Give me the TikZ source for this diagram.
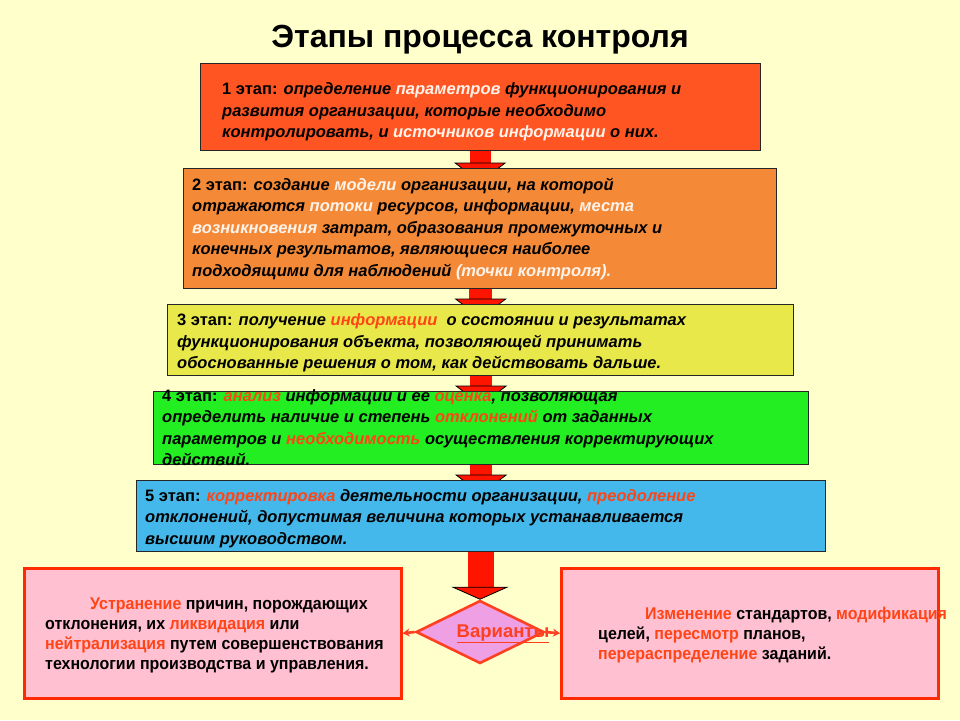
\documentclass[tikz,border=0pt]{standalone}
\usepackage{fontspec}
\setmainfont{Liberation Sans}
\newfontfamily\narrowbold[FakeStretch=0.94]{Liberation Sans Bold}
\usetikzlibrary{calc,shapes.geometric,arrows.meta}
\pgfdeclarelayer{back}
\pgfdeclarelayer{bg}
\pgfsetlayers{back,bg,main}
\definecolor{bgc}{HTML}{FFFFCC}
\definecolor{cA}{HTML}{FF5522}
\definecolor{cB}{HTML}{F48A38}
\definecolor{cC}{HTML}{E8E84A}
\definecolor{cD}{HTML}{22EE22}
\definecolor{cE}{HTML}{44B8EA}
\definecolor{pinkc}{HTML}{FFC0D2}
\definecolor{redb}{HTML}{FF2A00}
\definecolor{diaf}{HTML}{EFA0E4}
\definecolor{diab}{HTML}{FF4020}
\definecolor{whl}{HTML}{FFF4EC}
\definecolor{rhl}{HTML}{FF4416}
\definecolor{arrred}{HTML}{FF1400}
\newcommand\whi[1]{\textcolor{whl}{#1}}
\newcommand\redh[1]{\textcolor{rhl}{#1}}
\begin{document}
\begin{tikzpicture}[x=1pt,y=-1pt,
  stage/.style={draw=black!85, line width=1.3pt, inner sep=0pt, anchor=north west},
  stxt/.style={anchor=west, align=left, inner sep=0pt,
    font={\fontsize{16.5}{21.5}\selectfont\bfseries\itshape}},
  pbox/.style={draw=redb, fill=pinkc, line width=2.6pt, inner sep=0pt, anchor=north west,
    minimum width=377pt, minimum height=130pt},
  ptxt/.style={anchor=west, align=left, inner sep=0pt,
    font={\fontsize{17}{19.8}\narrowbold}},
  sidearrow/.style={draw=diab, line width=2.6pt, -{Stealth[length=7pt,width=8pt]}}
]
\begin{pgfonlayer}{back}
\fill[bgc] (0,0) rectangle (960,720);
\end{pgfonlayer}
\useasboundingbox (0,0) rectangle (960,720);

\node[font={\fontsize{32}{36}\selectfont\bfseries}, inner sep=0pt] (title) at (480,40) {Этапы процесса контроля};

\node[stage, fill=cA, minimum width=560pt, minimum height=87pt] (b1) at (200,63) {};
\node[stage, fill=cB, minimum width=593pt, minimum height=120pt] (b2) at (183,168) {};
\node[stage, fill=cC, minimum width=626pt, minimum height=71pt] (b3) at (167,304) {};
\node[stage, fill=cD, minimum width=655pt, minimum height=73pt] (b4) at (153,391) {};
\node[stage, fill=cE, minimum width=689pt, minimum height=71pt] (b5) at (136,480) {};

\node[stxt] (t1) at ([xshift=22pt,yshift=-5pt]b1.west) {{\upshape 1 этап:} определение \whi{параметров} функционирования и\\
развития организации, которые необходимо\\
контролировать, и \whi{источников информации} о них.};
\node[stxt] (t2) at ([xshift=9pt]b2.west) {{\upshape 2 этап:} создание \whi{модели} организации, на которой\\
отражаются \whi{потоки} ресурсов, информации, \whi{места}\\
\whi{возникновения} затрат, образования промежуточных и\\
конечных результатов, являющиеся наиболее\\
подходящими для наблюдений \whi{(точки контроля).}};
\node[stxt] (t3) at ([xshift=10pt,yshift=-3pt]b3.west) {{\upshape 3 этап:} получение \redh{информации}\ \ о состоянии и результатах\\
функционирования объекта, позволяющей принимать\\
обоснованные решения о том, как действовать дальше.};
\node[stxt] (t4) at ([xshift=9pt,yshift=0.5pt]b4.west) {{\upshape 4 этап:} \redh{анализ} информации и ее \redh{оценка}, позволяющая\\
определить наличие и степень \redh{отклонений} от заданных\\
параметров и \redh{необходимость} осуществления корректирующих\\
действий.};
\node[stxt] (t5) at ([xshift=9pt,yshift=-2.5pt]b5.west) {{\upshape 5 этап:} \redh{корректировка} деятельности организации, \redh{преодоление}\\
отклонений, допустимая величина которых устанавливается\\
высшим руководством.};

\node[pbox] (lb) at (23,567) {};
\node[pbox] (rb) at (560,567) {};
\node[draw=diab, fill=diaf, line width=2.6pt, shape=diamond, aspect=2,
  minimum width=128pt, minimum height=63pt, inner sep=0pt] (dia) at (480,632) {};

\node[ptxt] (lt) at ([xshift=22pt,yshift=-2pt]lb.west) {\hspace*{45pt}\redh{Устранение} причин, порождающих\\
отклонения, их \redh{ликвидация} или\\
\redh{нейтрализация} путем совершенствования\\
технологии производства и управления.};
\node[ptxt] (rt) at ([xshift=38pt,yshift=-2pt]rb.west) {\hspace*{47pt}\redh{Изменение} стандартов, \redh{модификация}\\
целей, \redh{пересмотр} планов,\\
\redh{перераспределение} заданий.};

\draw[sidearrow] (dia.west) -- (lb.east);
\draw[sidearrow] (dia.east) -- (rb.west);

\node[inner sep=0pt, text=diab, font={\fontsize{18.5}{20}\selectfont\bfseries}] (vart) at (503,634) {\underline{Варианты}};

\begin{pgfonlayer}{bg}
\foreach \u/\v in {b1/b2,b2/b3,b3/b4,b4/b5}{
  \fill[arrred] ($(\u.south)+(-11,0)$) rectangle ($(\v.north)+(11,-5)$);
  \filldraw[fill=arrred, draw=black, line width=0.8pt] ($(\v.north)+(-25,-5)$) -- ($(\v.north)+(25,-5)$) -- ($(\v.north)+(0,14)$) -- cycle;
}
\end{pgfonlayer}
\fill[arrred] ($(b5.south)+(-13.5,0)$) rectangle ($(dia.north)+(14,-12)$);
\filldraw[fill=arrred, draw=black, line width=0.8pt] ($(dia.north)+(-27,-12)$) -- ($(dia.north)+(27,-12)$) -- (dia.north) -- cycle;
\end{tikzpicture}
\end{document}
